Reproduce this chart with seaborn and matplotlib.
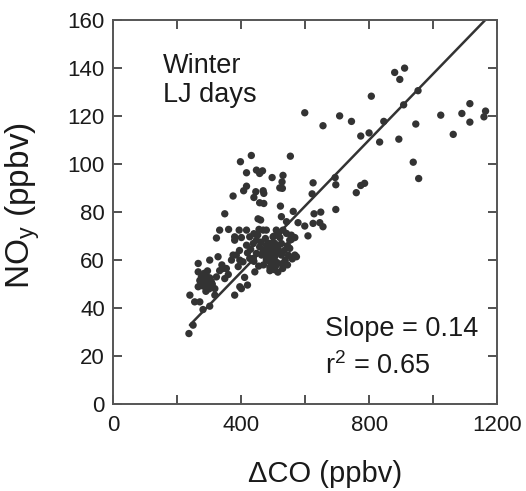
import numpy as np
import pandas as pd
import matplotlib
matplotlib.use("Agg")
import matplotlib.pyplot as plt
import seaborn as sns
from matplotlib.ticker import MultipleLocator

# ---- data ----
delta_co = [
    880, 911, 896, 953, 908, 807, 599, 708, 745, 846, 656, 946, 774, 800, 833, 893,
    1024, 1090, 1115, 1115, 1063, 1164, 1159, 938, 955,
    554, 432, 398, 417, 448, 467, 458, 497, 531, 528, 521, 529, 417, 408, 446, 469,
    471, 440, 375, 458, 471, 523, 625, 622, 694, 696, 760, 774, 786, 696, 563, 628,
    649, 349, 453, 461, 526, 542, 578, 625, 646, 656, 599, 609, 333, 361, 394, 417,
    323, 380, 380, 401, 427, 456, 469, 479, 510, 531, 542, 557, 568, 552, 521, 500,
    448, 438, 417, 458, 479, 500, 526, 552, 557, 490, 510, 474, 484, 505, 526, 568,
    573, 375, 385, 396, 406, 427, 438, 448, 464, 479, 490, 500, 510, 495, 490, 531,
    302, 328, 391, 344, 354, 333, 266, 266, 276, 292, 302, 286, 271, 307, 323, 349,
    292, 281, 266, 318, 411, 396, 401, 420, 443, 380, 318, 240, 255, 271, 302, 281,
    250, 237,
    470, 485, 495, 505, 515, 520, 535, 545, 498, 512, 480, 462, 528, 538, 548, 503,
    518, 487, 476, 452, 440, 430, 420, 505, 515, 530, 545, 560, 490, 470, 455, 440,
    285, 295, 310, 300, 275, 290, 340, 360, 370, 395,
]
noy = [
    138.2, 140.0, 135.3, 130.6, 124.7, 128.3, 121.4, 120.1, 117.8, 117.8, 116.0, 116.7,
    111.7, 113.0, 109.2, 110.4, 120.4, 121.1, 125.2, 117.5, 112.4, 122.1, 119.7, 100.8, 94.0,
    103.3, 103.6, 101.0, 96.4, 97.5, 97.2, 96.1, 94.4, 95.3, 92.6, 90.1, 89.9, 90.8, 88.9,
    88.5, 88.9, 87.8, 86.1, 86.7, 83.9, 83.6, 82.5, 92.2, 87.6, 94.4, 91.4, 88.1, 91.1,
    92.0, 81.1, 80.3, 79.3, 80.0, 79.3, 77.2, 76.7, 78.1, 76.0, 75.6, 75.3, 75.6, 73.9,
    74.2, 70.1, 72.5, 72.8, 72.5, 72.5, 69.2, 69.7, 68.3, 69.4, 69.7, 72.8, 72.5, 72.5,
    72.5, 72.5, 71.1, 70.4, 69.4, 68.3, 69.4, 69.7, 68.3, 66.9, 66.2, 65.5, 66.2, 65.5,
    66.9, 64.9, 68.6, 64.2, 63.5, 63.5, 62.1, 61.4, 62.1, 62.1, 61.4, 62.1, 62.1, 60.0,
    59.3, 60.7, 60.7, 62.8, 62.1, 60.0, 59.3, 58.6, 57.9, 56.5, 55.6, 57.9,
    60.0, 61.4, 57.3, 56.5, 56.5, 55.6, 58.6, 55.1, 53.0, 53.3, 52.6, 51.5, 51.5, 51.0,
    53.0, 52.3, 50.3, 49.2, 48.9, 48.1, 52.8, 48.9, 48.1, 49.6, 55.1, 45.4, 45.4, 45.4,
    42.6, 42.6, 40.8, 39.4, 32.9, 29.4,
    64.0, 66.0, 63.0, 67.0, 65.0, 63.0, 64.0, 66.0, 60.5, 59.0, 61.0, 67.5, 58.5, 60.0,
    62.0, 70.0, 71.5, 67.0, 69.0, 70.5, 71.0, 64.5, 63.0, 56.0, 55.0, 56.5, 58.0, 60.5,
    57.0, 58.0, 57.5, 59.5,
    54.5, 55.5, 50.0, 48.0, 50.5, 47.0, 58.0, 54.0, 60.0, 64.0,
]

# regression line parameters
fit_slope = 0.1377
fit_intercept = -0.1
fit_x_range = [240, 1165]

x_major_ticks = [0, 400, 800, 1200]
y_ticks = [0, 20, 40, 60, 80, 100, 120, 140, 160]

df = pd.DataFrame({"dCO": delta_co, "NOy": noy})

sns.set_theme(style="ticks")
plt.rcParams["font.family"] = ["Liberation Sans", "DejaVu Sans"]
plt.rcParams["mathtext.default"] = "regular"

fig = plt.figure(figsize=(5.26, 4.91), dpi=100)
ax = fig.add_axes([0.215, 0.177, 0.730, 0.782])

dot_color = "#333333"
sns.scatterplot(data=df, x="dCO", y="NOy", ax=ax, color=dot_color, s=28,
                edgecolor="none", linewidth=0)

fx = np.array(fit_x_range, dtype=float)
ax.plot(fx, fit_slope * fx + fit_intercept, color="#333333", lw=1.8)

ax.set_xlim(0, 1200)
ax.set_ylim(0, 160)
ax.set_xticks(x_major_ticks)
ax.xaxis.set_minor_locator(MultipleLocator(200))
ax.set_yticks(y_ticks)

spine_color = "#555555"
for sp in ax.spines.values():
    sp.set_visible(True)
    sp.set_color(spine_color)
    sp.set_linewidth(1.4)

ax.tick_params(axis="both", which="both", direction="in", top=True, right=True,
               color="#333333", width=1.2, labelsize=16, labelcolor="#1a1a1a")
ax.tick_params(axis="both", which="major", length=6.5)
ax.tick_params(axis="x", which="major", pad=8)
ax.tick_params(axis="y", which="major", pad=6)
ax.tick_params(axis="x", which="minor", length=6.5)

ax.set_xlabel("ΔCO (ppbv)", fontsize=21, color="#1a1a1a", va="baseline")
ax.xaxis.set_label_coords(0.552, -0.203)
ax.set_ylabel("NO$_y$ (ppbv)", fontsize=24, color="#1a1a1a")
ax.yaxis.set_label_coords(-0.185, 0.518)

ax.text(0.13, 0.862, "Winter", transform=ax.transAxes, fontsize=19.5,
        va="baseline", ha="left", color="#1a1a1a")
ax.text(0.13, 0.786, "LJ days", transform=ax.transAxes, fontsize=19.5,
        va="baseline", ha="left", color="#1a1a1a")
ax.text(0.552, 0.177, "Slope = 0.14", transform=ax.transAxes, fontsize=19.5,
        va="baseline", ha="left", color="#1a1a1a")
ax.text(0.552, 0.078, "r$^2$ = 0.65", transform=ax.transAxes, fontsize=19.5,
        va="baseline", ha="left", color="#1a1a1a")

fig.savefig("out.png", dpi=100)
